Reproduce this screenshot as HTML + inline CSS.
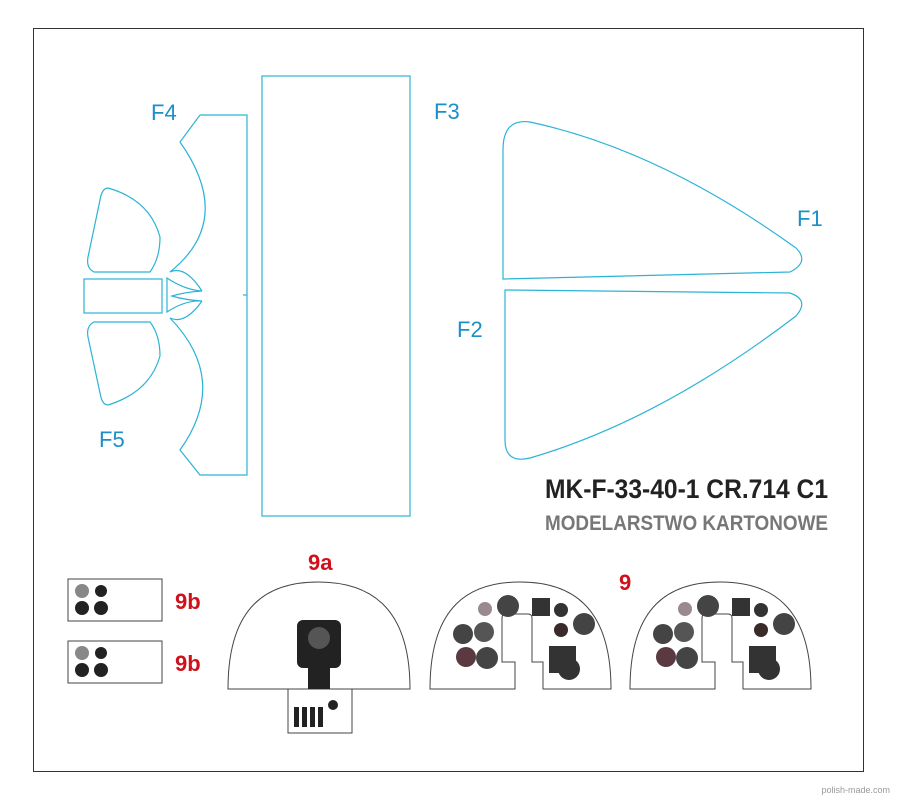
<!DOCTYPE html>
<html><head><style>html,body{margin:0;padding:0;background:#fff}svg{display:block}</style></head>
<body>
<svg width="897" height="800" viewBox="0 0 897 800" xmlns="http://www.w3.org/2000/svg" font-family="Liberation Sans, sans-serif">
<rect x="33.5" y="28.5" width="830" height="743" fill="none" stroke="#333" stroke-width="1"/>
<g fill="none" stroke="#2bb3d6" stroke-width="1.2">
<rect x="262" y="76" width="148" height="440"/>
<path d="M200,115 L247,115 L247,475 L200,475 L180,450 Q230,380 170,318"/>
<path d="M200,115 L180,142 Q235,220 170,272"/>
<line x1="243" y1="295" x2="247" y2="295"/>
<rect x="84" y="279" width="78" height="34"/>
<path d="M167,278 L167,312 Q185,300 202,301 Q185,300 172,296 Q185,292 202,291 Q185,290 167,278Z"/>
<path d="M170,272 Q185,265 202,291"/>
<path d="M170,318 Q185,325 202,301"/>
<path d="M108,188 Q150,200 160,237 Q160,258 150,272 L94,272 Q86,268 88,257 L100,200 Q102,188 108,188Z"/>
<path d="M94,322 L150,322 Q160,335 160,356 Q150,392 108,405 Q102,405 100,393 L88,337 Q86,326 94,322Z"/>
<path d="M503,279 L503,150 Q503,118 530,122 Q660,150 796,248 Q810,262 790,272 Z"/>
<path d="M505,290 L790,293 Q810,300 796,316 Q660,420 530,458 Q505,464 505,440 Z"/>
</g>
<g fill="#1a8fc9" font-size="22">
<text x="151" y="120">F4</text><text x="434" y="119">F3</text><text x="797" y="226">F1</text><text x="457" y="337">F2</text><text x="99" y="447">F5</text>
</g>
<text x="545" y="498" font-size="27" font-weight="bold" fill="#222" textLength="283" lengthAdjust="spacingAndGlyphs">MK-F-33-40-1 CR.714 C1</text>
<text x="545" y="530" font-size="21" font-weight="bold" fill="#777" textLength="283" lengthAdjust="spacingAndGlyphs">MODELARSTWO  KARTONOWE</text>
<g fill="#d0101a" font-size="22" font-weight="bold">
<text x="308" y="570">9a</text><text x="619" y="590">9</text><text x="175" y="609">9b</text><text x="175" y="671">9b</text>
</g>
<g fill="#fff" stroke="#444" stroke-width="1">
<rect x="68" y="579" width="94" height="42"/><rect x="68" y="641" width="94" height="42"/>
<path d="M228,689 C228,605 268,582 318,582 C368,582 410,605 410,689 Z"/>
<rect x="288" y="689" width="64" height="44"/>
<path d="M430,689 C430,605 470,582 520,582 C570,582 611,605 611,689 L543,689 L543,662 L532,662 L532,618 Q532,614 528,614 L506,614 Q502,614 502,618 L502,662 L515,662 L515,689 L460,689 Z"/>
<path d="M630,689 C630,605 670,582 720,582 C770,582 811,605 811,689 L743,689 L743,662 L732,662 L732,618 Q732,614 728,614 L706,614 Q702,614 702,618 L702,662 L715,662 L715,689 L660,689 Z"/>
</g>
<g fill="#222">
<circle cx="82" cy="591" r="7" fill="#888"/><circle cx="101" cy="591" r="6"/><circle cx="82" cy="608" r="7"/><circle cx="101" cy="608" r="7"/>
<circle cx="82" cy="653" r="7" fill="#888"/><circle cx="101" cy="653" r="6"/><circle cx="82" cy="670" r="7"/><circle cx="101" cy="670" r="7"/>
<rect x="297" y="620" width="44" height="48" rx="6"/><rect x="308" y="668" width="22" height="21"/>
<circle cx="319" cy="638" r="11" fill="#555"/>
<rect x="294" y="707" width="5" height="20"/><rect x="302" y="707" width="5" height="20"/><rect x="310" y="707" width="5" height="20"/><rect x="318" y="707" width="5" height="20"/><circle cx="333" cy="705" r="5"/>
</g>
<g fill="#333">
<g id="g9">
<circle cx="485" cy="609" r="7" fill="#9a8a8e"/><circle cx="508" cy="606" r="11" fill="#444"/>
<circle cx="463" cy="634" r="10" fill="#444"/><circle cx="484" cy="632" r="10" fill="#555"/>
<circle cx="466" cy="657" r="10" fill="#5a3a40"/><circle cx="487" cy="658" r="11" fill="#444"/>
<rect x="532" y="598" width="18" height="18"/><circle cx="561" cy="610" r="7"/><circle cx="561" cy="630" r="7" fill="#3a2a2a"/>
<circle cx="584" cy="624" r="11" fill="#444"/>
<rect x="549" y="646" width="27" height="27"/><circle cx="569" cy="688" r="0"/><circle cx="567" cy="684" r="0"/>
<circle cx="569" cy="668" r="0"/><circle cx="568" cy="682" r="0"/>
</g>
<circle cx="569" cy="670" r="0"/>
<circle cx="568" cy="668" r="0"/>
<circle cx="570" cy="669" r="0"/>
<circle cx="569" cy="670" r="11" transform="translate(0,-1)"/>
<use href="#g9" x="200"/>
<circle cx="769" cy="669" r="11"/>
</g>
<text x="890" y="793" font-size="9" fill="#999" text-anchor="end">polish-made.com</text>
</svg>
</body></html>
